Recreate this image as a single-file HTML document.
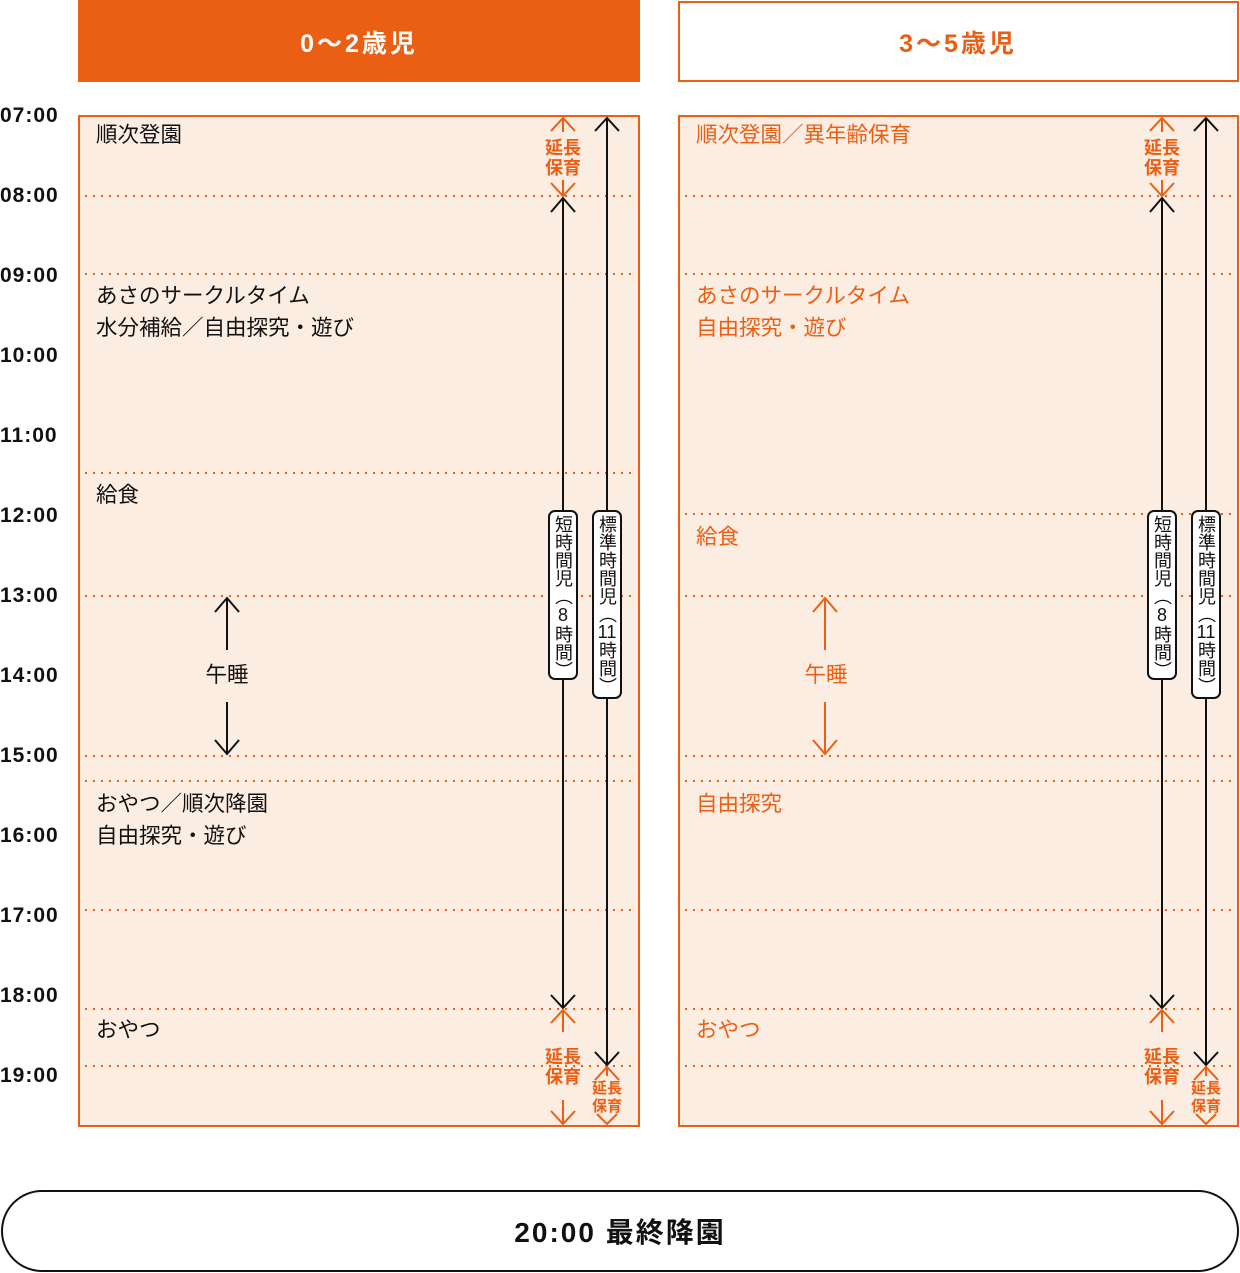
<!DOCTYPE html>
<html><head><meta charset="utf-8"><style>
body{margin:0;width:1240px;height:1273px;background:#fff;position:relative;overflow:hidden;font-family:"Liberation Sans","Noto Sans CJK JP",sans-serif}
svg{position:absolute;left:0;top:0}
.v{position:absolute;width:30px;background:#fff;border:2px solid #111;border-radius:7px;box-sizing:border-box;writing-mode:vertical-rl;text-orientation:upright;font-size:18px;line-height:26px;color:#111;padding-top:3px;white-space:nowrap;text-align:start}
.v .c{text-combine-upright:all}
</style></head><body>
<svg width="1240" height="1273" viewBox="0 0 1240 1273" font-family="'Liberation Sans','Noto Sans CJK JP',sans-serif">
<rect x="78" y="0" width="562" height="82" fill="#ea5f14"/>
<text x="359" y="52" text-anchor="middle" font-size="25" font-weight="bold" fill="#fff" letter-spacing="3">0〜2歳児</text>
<rect x="679" y="2" width="559" height="79" fill="#fff" stroke="#ea5f14" stroke-width="2"/>
<text x="958" y="52" text-anchor="middle" font-size="25" font-weight="bold" fill="#ea5f14" letter-spacing="3">3〜5歳児</text>

<rect x="79" y="116" width="560" height="1010" fill="#fcede2" stroke="#ea5f14" stroke-width="2"/>
<rect x="679" y="116" width="559" height="1010" fill="#fcede2" stroke="#ea5f14" stroke-width="2"/>

<g stroke="#ea5f14" stroke-width="2" stroke-dasharray="2 6">
<path d="M85 196H636M85 274H636M85 473H636M85 596H636M85 756H636M85 781H636M85 910H636M85 1009H636M85 1066H636"/>
<path d="M685 196H1236M685 274H1236M685 514H1236M685 596H1236M685 756H1236M685 781H1236M685 910H1236M685 1009H1236M685 1066H1236"/>
</g>

<g font-size="21" font-weight="bold" fill="#111" letter-spacing="1">
<text x="0" y="122">07:00</text><text x="0" y="202">08:00</text><text x="0" y="282">09:00</text>
<text x="0" y="362">10:00</text><text x="0" y="442">11:00</text><text x="0" y="522">12:00</text>
<text x="0" y="602">13:00</text><text x="0" y="682">14:00</text><text x="0" y="762">15:00</text>
<text x="0" y="842">16:00</text><text x="0" y="922">17:00</text><text x="0" y="1002">18:00</text>
<text x="0" y="1082">19:00</text>
</g>

<g font-size="21.5" fill="#111">
<text x="96" y="142">順次登園</text>
<text x="96" y="303">あさのサークルタイム</text>
<text x="96" y="335">水分補給／自由探究・遊び</text>
<text x="96" y="502">給食</text>
<text x="227" y="682" text-anchor="middle">午睡</text>
<text x="96" y="811">おやつ／順次降園</text>
<text x="96" y="843">自由探究・遊び</text>
<text x="96" y="1037">おやつ</text>
</g>
<g font-size="21.5" fill="#ea5f14">
<text x="696" y="142">順次登園／異年齢保育</text>
<text x="696" y="303">あさのサークルタイム</text>
<text x="696" y="335">自由探究・遊び</text>
<text x="696" y="544">給食</text>
<text x="826" y="682" text-anchor="middle">午睡</text>
<text x="696" y="811">自由探究</text>
<text x="696" y="1037">おやつ</text>
</g>

<g stroke="#111" stroke-width="2" fill="none">
<path d="M227 598V650M227 702V754"/>
<polyline points="215,612 227,598 239,612"/><polyline points="215,740 227,754 239,740"/>
</g>
<g stroke="#ea5f14" stroke-width="2" fill="none">
<path d="M825 598V650M825 702V754"/>
<polyline points="813,612 825,598 837,612"/><polyline points="813,740 825,754 837,740"/>
</g>

<g id="arr">
<g stroke="#111" stroke-width="2" fill="none">
<path d="M563 198V1008"/>
<polyline points="551,212 563,198 575,212"/><polyline points="551,995 563,1008 575,995"/>
<path d="M607 118V1065"/>
<polyline points="595,131 607,118 619,131"/><polyline points="595,1052 607,1065 619,1052"/>
</g>
<g stroke="#ea5f14" stroke-width="2" fill="none">
<path d="M563 118V132M563 180V196"/>
<polyline points="551,131 563,118 575,131"/><polyline points="551,183 563,196 575,183"/>
<path d="M563 1010V1032M563 1100V1124"/>
<polyline points="551,1023 563,1010 575,1023"/><polyline points="551,1111 563,1124 575,1111"/>
<path d="M607 1067V1076"/>
<polyline points="595,1080 607,1067 619,1080"/><polyline points="597,1114 607,1124 617,1114"/>
</g>
<g fill="#ea5f14" font-weight="bold" text-anchor="middle">
<text x="563" y="154" font-size="18">延長</text><text x="563" y="174" font-size="18">保育</text>
<text x="563" y="1063" font-size="18">延長</text><text x="563" y="1083" font-size="18">保育</text>
<text x="607" y="1093" font-size="15">延長</text><text x="607" y="1111" font-size="15">保育</text>
</g>
</g>
<use href="#arr" x="599"/>

<rect x="2" y="1191" width="1236" height="80" rx="40" fill="#fff" stroke="#111" stroke-width="2"/>
<text x="620" y="1242" text-anchor="middle" font-size="28" font-weight="bold" fill="#111" letter-spacing="2">20:00 最終降園</text>
</svg>
<div class="v" style="left:548px;top:510px;height:170px">短時間児（8時間）</div>
<div class="v" style="left:592px;top:510px;height:189px">標準時間児（<span class="c">11</span>時間）</div>
<div class="v" style="left:1147px;top:510px;height:170px">短時間児（8時間）</div>
<div class="v" style="left:1191px;top:510px;height:189px">標準時間児（<span class="c">11</span>時間）</div>
</body></html>
